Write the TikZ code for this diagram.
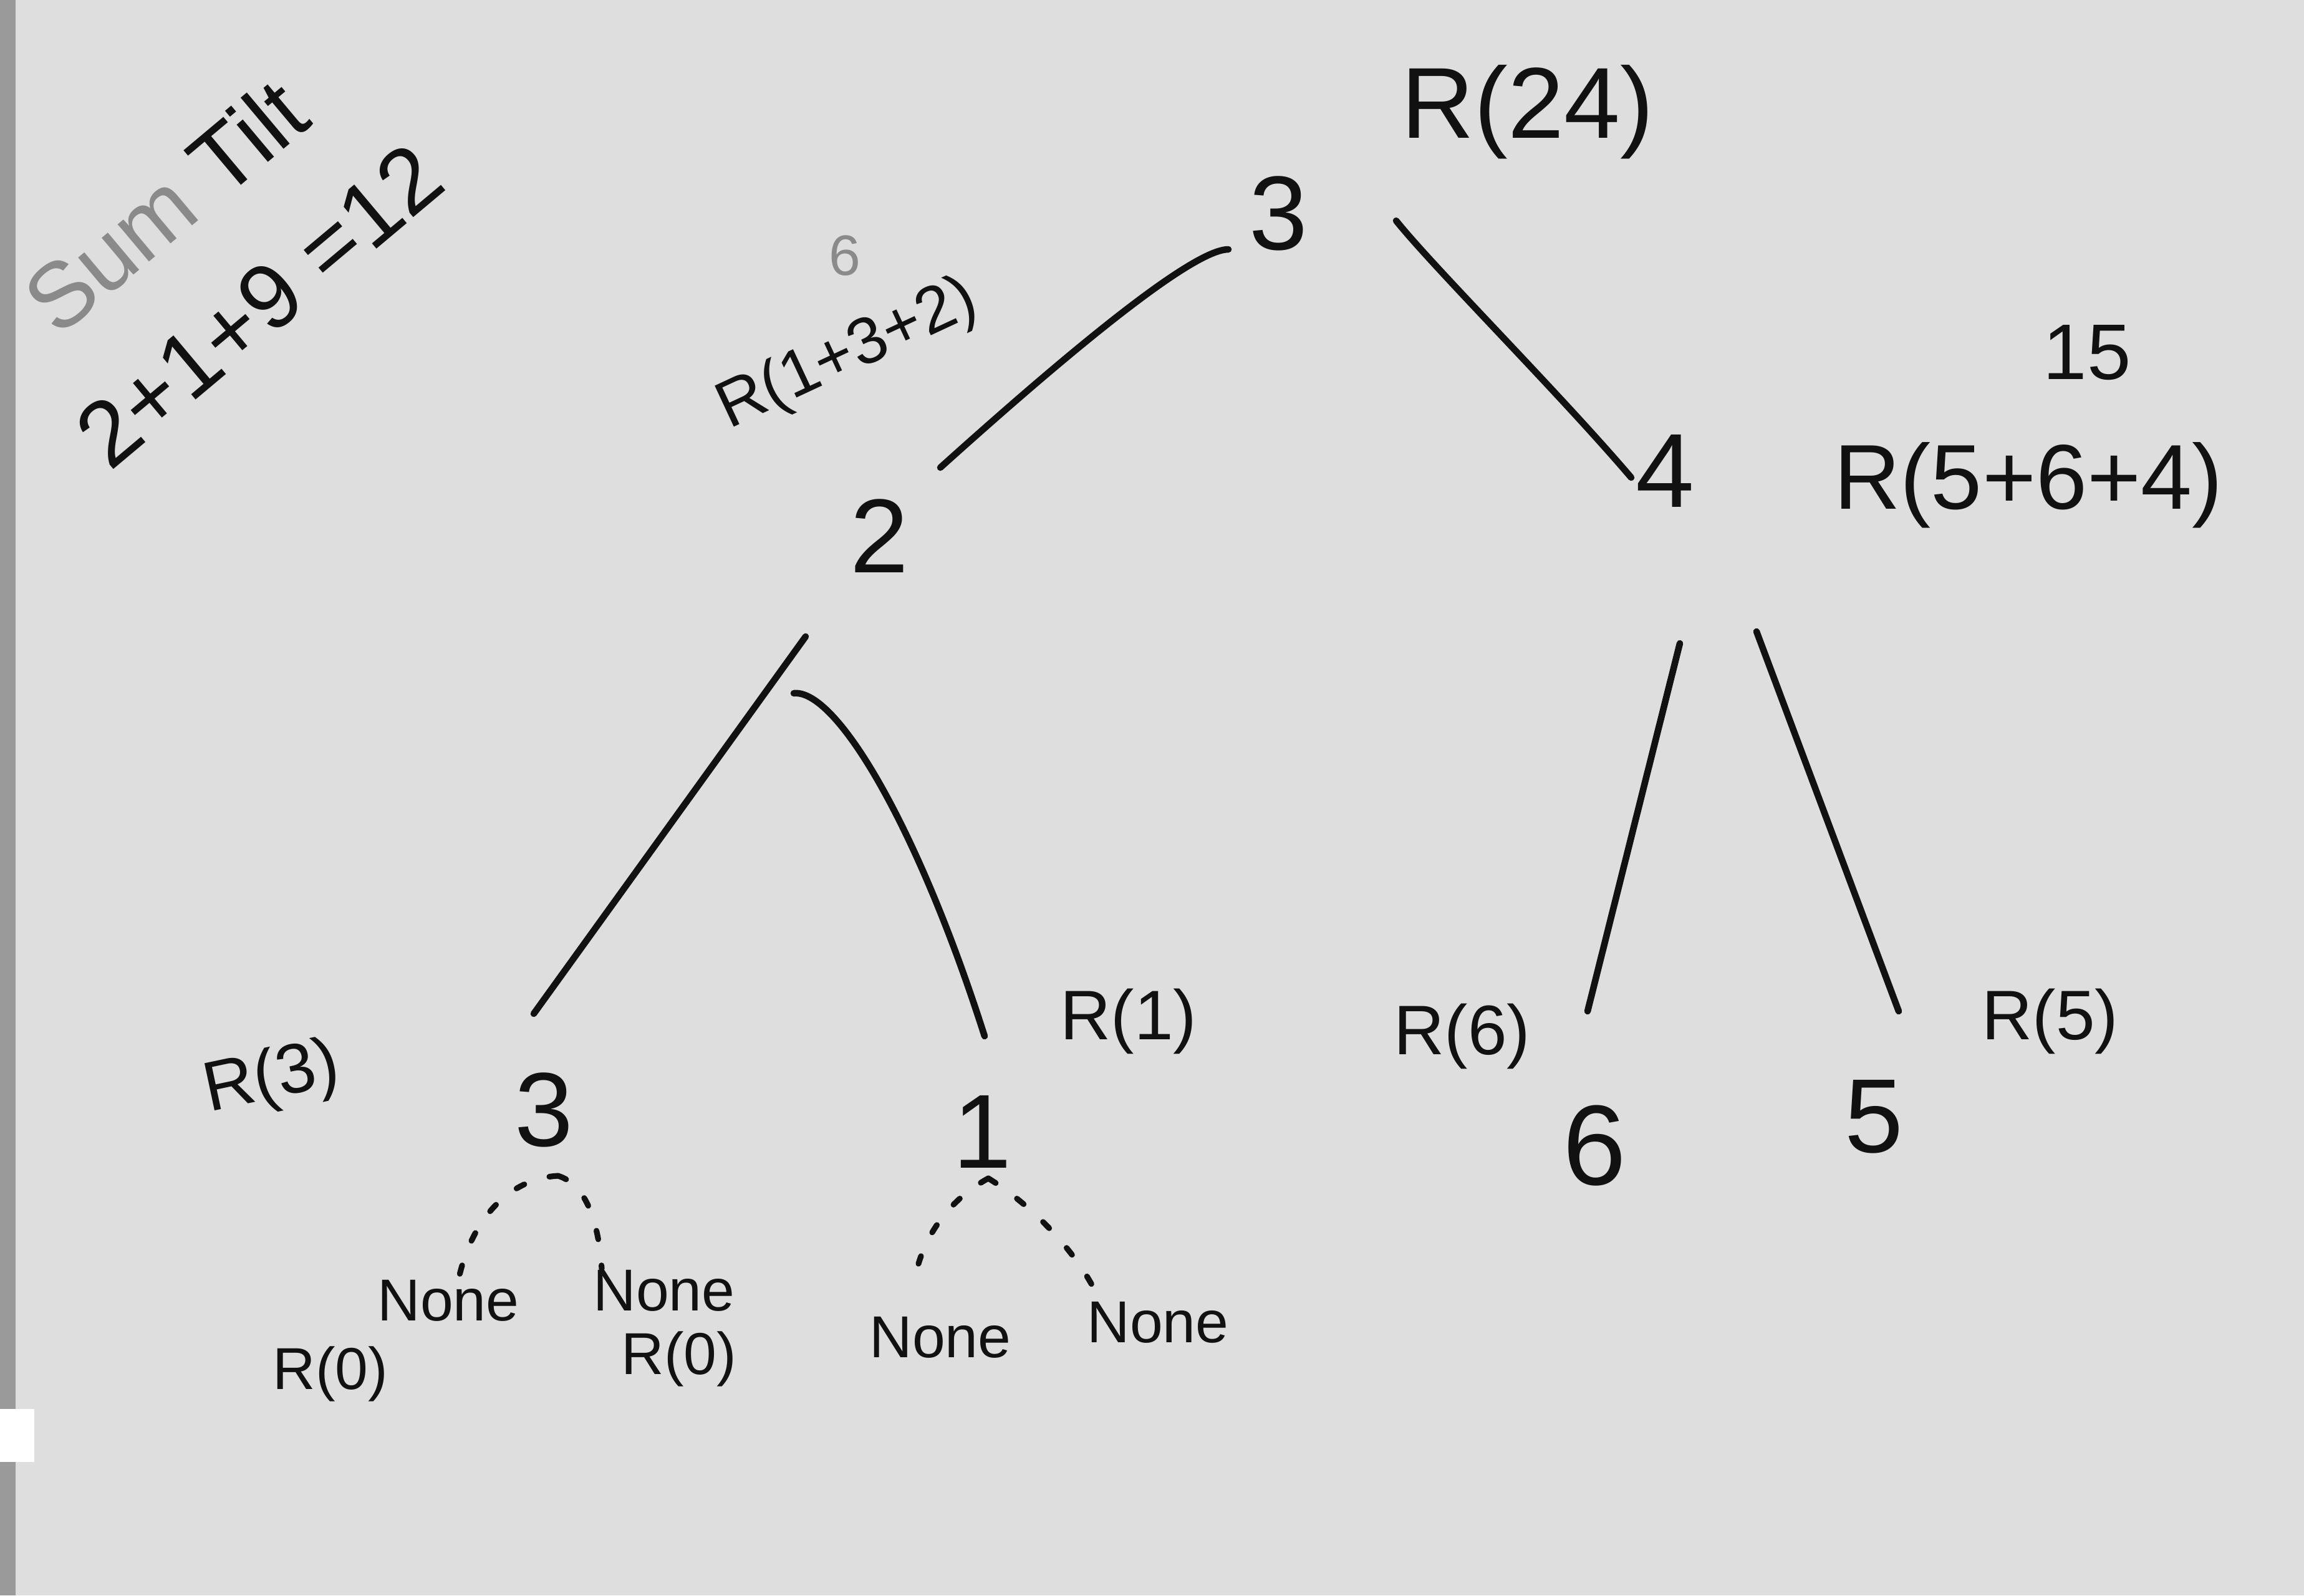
\documentclass[tikz,border=0pt]{standalone}
\usepackage{fontspec}
\setmainfont{Liberation Sans}
\usetikzlibrary{calc}
\definecolor{board}{HTML}{DEDEDE}
\definecolor{frame}{HTML}{9A9A9A}
\definecolor{ink}{HTML}{111111}
\definecolor{faded}{HTML}{8A8A8A}
\tikzset{
  edge/.style={draw=ink, line width=3pt, line cap=round},
  dots/.style={draw=ink, line width=2.6pt, line cap=round, dash pattern=on 4pt off 12pt},
  val/.style={text=ink, inner sep=0pt, font=\fontsize{48}{52}\selectfont},
  rlab/.style={text=ink, inner sep=0pt, font=\fontsize{32}{36}\selectfont},
  nonelab/.style={text=ink, inner sep=0pt, font=\fontsize{27}{30}\selectfont},
  note/.style={text=ink, inner sep=0pt, font=\fontsize{36}{40}\selectfont}
}
\begin{document}
\begin{tikzpicture}
\useasboundingbox (0,0) rectangle (36.95,-25.59);
\fill[board] (0,0) rectangle (36.95,-25.59);
\fill[frame] (0,0) rectangle (0.25,-25.59);
\fill[white] (0,-22.6) rectangle (0.55,-23.45);

% tree values
\node[val] (root) at (20.50,-3.42) {3};
\node[val] (two) at (14.10,-8.60) {2};
\node[val] (four) at (26.70,-7.55) {4};
\node[val] (three) at (8.72,-17.80) {3};
\node[val] (one) at (15.75,-18.15) {1};
\node[val, font=\fontsize{52}{56}\selectfont] (six) at (25.57,-18.38) {6};
\node[val] (five) at (30.05,-17.91) {5};

% annotations
\node[note, font=\fontsize{46}{50}\selectfont] (r24) at (24.50,-1.80) {R(24)};
\node[note, text=faded, font=\fontsize{26}{28}\selectfont] (six6) at (13.55,-4.10) {6};
\node[note, rotate=25, font=\fontsize{30}{32}\selectfont] (r132) at (13.60,-5.70) {R(1+3+2)};
\node[note, font=\fontsize{36}{40}\selectfont] (fifteen) at (33.47,-5.66) {15};
\node[note, font=\fontsize{42}{44}\selectfont] (r564) at (32.53,-7.78) {R(5+6+4)};
\node[note, rotate=40, align=left, font=\fontsize{42}{62}\selectfont] (sumtilt) at (3.45,-4.05)
  {\hspace*{0.5em}\textcolor{faded}{Sum} Tilt\\2+1+9 =12};

\node[rlab, rotate=12] (r3) at (4.36,-17.32) {R(3)};
\node[rlab] (r1) at (18.10,-16.38) {R(1)};
\node[rlab] (r6) at (23.45,-16.62) {R(6)};
\node[rlab] (r5) at (32.88,-16.38) {R(5)};

\node[nonelab] (n1) at (7.19,-20.86) {None};
\node[nonelab] (n2) at (10.65,-20.70) {None};
\node[nonelab] (n3) at (15.08,-21.45) {None};
\node[nonelab] (n4) at (18.57,-21.21) {None};
\node[nonelab] (r0a) at (5.30,-22.04) {R(0)};
\node[nonelab] (r0b) at (10.89,-21.80) {R(0)};

% edge endpoints
\coordinate (rootL) at (19.70,-4.00);
\coordinate (twoT) at (15.08,-7.50);
\coordinate (rootR) at (22.39,-3.54);
\coordinate (fourT) at (26.16,-7.66);
\coordinate (twoL) at (12.92,-10.21);
\coordinate (threeT) at (8.56,-16.26);
\coordinate (twoR) at (12.73,-11.12);
\coordinate (oneT) at (15.79,-16.62);
\coordinate (fourL) at (26.94,-10.32);
\coordinate (sixT) at (25.46,-16.22);
\coordinate (fourR) at (28.17,-10.13);
\coordinate (fiveT) at (30.45,-16.22);

\draw[edge] (rootL) .. controls (19.35,-4.0) and (18.3,-4.6) .. (twoT);
\draw[edge] (rootR) .. controls (23.0,-4.3) and (25.0,-6.3) .. (fourT);
\draw[edge] (twoL) -- (threeT);
\draw[edge] (twoR) .. controls (13.4,-11.05) and (14.7,-13.2) .. (oneT);
\draw[edge] (fourL) -- (sixT);
\draw[edge] (fourR) -- (fiveT);

% dotted null edges
\coordinate (threeB) at (8.95,-18.86);
\coordinate (oneB) at (15.85,-18.90);
\coordinate (n1T) at (7.37,-20.45);
\coordinate (n2T) at (9.65,-20.35);
\coordinate (n3T) at (14.73,-20.27);
\coordinate (n4T) at (17.56,-20.70);
\draw[dots] (threeB) .. controls (8.2,-18.9) and (7.6,-19.5) .. (n1T);
\draw[dots] (threeB) .. controls (9.4,-19.0) and (9.6,-19.6) .. (n2T);
\draw[dots] (oneB) .. controls (15.3,-19.2) and (14.9,-19.7) .. (n3T);
\draw[dots] (oneB) .. controls (16.5,-19.3) and (17.2,-20.0) .. (n4T);
\end{tikzpicture}
\end{document}
